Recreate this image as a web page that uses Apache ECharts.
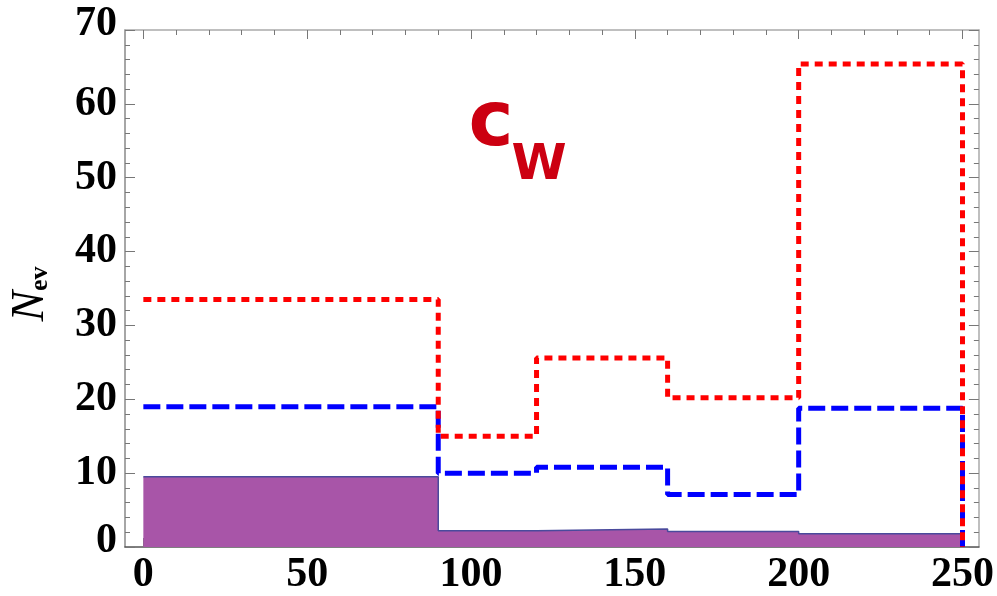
<!DOCTYPE html>
<html>
<head>
<meta charset="utf-8">
<script src="https://cdn.jsdelivr.net/npm/echarts@6/dist/echarts.min.js"></script>
<style>html,body{margin:0;padding:0;background:#fff}#c{width:997px;height:596px}</style>
</head>
<body>
<div id="c"></div>
<script>
// Bin edges (x) and per-bin event counts
var binEdges = [0, 90, 120, 160, 200, 250];
var redDotted = [33.5, 15.0, 25.6, 20.2, 65.4];
var blueDashed = [19.0, 10.0, 10.8, 7.1, 18.8];
var purpleFilled = [9.5, 2.2, 2.45, 2.1, 1.8];
var xMajorTicks = [0, 50, 100, 150, 200, 250];
var xMinorTicks = [10, 20, 30, 40, 60, 70, 80, 90, 110, 120, 130, 140, 160, 170, 180, 190, 210, 220, 230, 240];
var yMajorTicks = [0, 10, 20, 30, 40, 50, 60, 70];
var yMinorTicks = [2, 4, 6, 8, 12, 14, 16, 18, 22, 24, 26, 28, 32, 34, 36, 38, 42, 44, 46, 48, 52, 54, 56, 58, 62, 64, 66, 68];

function stepPoints(vals) {
  var pts = [];
  for (var i = 0; i < vals.length; i++) {
    pts.push([binEdges[i], vals[i]]);
    pts.push([binEdges[i + 1], vals[i]]);
  }
  pts.push([binEdges[binEdges.length - 1], 0]);
  return pts;
}

var XMIN = -5.6, XMAX = 255, YMIN = 0, YMAX = 70;
var labelFont = {fontFamily: 'Liberation Serif', fontWeight: 'bold', fontSize: 42, color: '#000'};

function xAx(pos, ticks, len, showLine, lineColor, labels) {
  return {
    type: 'value', min: XMIN, max: XMAX, position: pos,
    axisLine: {show: showLine, onZero: false, lineStyle: {color: lineColor, width: 1.5}},
    axisTick: {show: true, inside: true, length: len, customValues: ticks, lineStyle: {color: '#777', width: 1}},
    axisLabel: labels ? Object.assign({show: true, customValues: ticks, margin: 7}, labelFont) : {show: false},
    splitLine: {show: false}, minorTick: {show: false}
  };
}
function yAx(pos, ticks, len, showLine, lineColor, labels) {
  return {
    type: 'value', min: YMIN, max: YMAX, position: pos,
    axisLine: {show: showLine, onZero: false, lineStyle: {color: lineColor, width: 1.5}},
    axisTick: {show: true, inside: true, length: len, customValues: ticks, lineStyle: {color: '#777', width: 1}},
    axisLabel: labels ? Object.assign({
      show: true, customValues: ticks, margin: 8,
      formatter: function (v) { return (v === 0 || v === 70) ? '{s|' + v + '}' : String(v); },
      rich: {s: Object.assign({padding: [0, 0, 11, 0]}, labelFont)}
    }, labelFont) : {show: false},
    splitLine: {show: false}, minorTick: {show: false}
  };
}

var chart = echarts.init(document.getElementById('c'), null, {renderer: 'canvas'});
chart.setOption({
  animation: false,
  backgroundColor: '#fff',
  grid: {left: 125, right: 15.5, top: 30, bottom: 43.7},
  xAxis: [
    xAx('bottom', xMajorTicks, 9, true, '#555', true),
    xAx('bottom', xMinorTicks, 5, false, '#555', false),
    xAx('top', xMajorTicks, 9, true, '#aaa', false),
    xAx('top', xMinorTicks, 5, false, '#aaa', false)
  ],
  yAxis: [
    yAx('left', yMajorTicks, 10, true, '#888', true),
    yAx('left', yMinorTicks, 5, false, '#888', false),
    yAx('right', yMajorTicks, 10, true, '#aaa', false),
    yAx('right', yMinorTicks, 5, false, '#aaa', false)
  ],
  series: [
    {
      type: 'line', xAxisIndex: 0, yAxisIndex: 0, data: stepPoints(purpleFilled),
      showSymbol: false, symbol: 'none',
      lineStyle: {color: '#4a4a9c', width: 1.5},
      areaStyle: {color: '#a855a8', opacity: 1},
      z: 1
    },
    {
      type: 'line', xAxisIndex: 0, yAxisIndex: 0, data: stepPoints(blueDashed),
      showSymbol: false, symbol: 'none',
      lineStyle: {color: '#0000ff', width: 5, type: [17, 6], cap: 'butt'},
      z: 2
    },
    {
      type: 'line', xAxisIndex: 0, yAxisIndex: 0, data: stepPoints(redDotted),
      showSymbol: false, symbol: 'none',
      lineStyle: {color: '#ff0000', width: 5, type: [8, 6], cap: 'butt'},
      z: 3
    }
  ],
  graphic: [
    {
      type: 'text', x: 31, y: 294, rotation: Math.PI / 2,
      style: {
        text: '{n|N}{e|ev}', align: 'center', verticalAlign: 'middle',
        rich: {
          n: {fontFamily: 'Liberation Serif', fontStyle: 'italic', fontSize: 46, fill: '#000'},
          e: {fontFamily: 'Liberation Serif', fontWeight: 'bold', fontSize: 26, fill: '#000', padding: [18, 0, 0, 0]}
        }
      }
    },
    {
      type: 'text', x: 491, y: 125,
      style: {text: 'c', align: 'center', verticalAlign: 'middle', fontFamily: 'DejaVu Sans', fontWeight: 'bold', fontSize: 76, fill: '#cc0011'}
    },
    {
      type: 'text', x: 539, y: 166,
      style: {text: 'W', align: 'center', verticalAlign: 'middle', fontFamily: 'DejaVu Sans', fontWeight: 'bold', fontSize: 50, fill: '#cc0011'}
    }
  ]
});
</script>
</body>
</html>
